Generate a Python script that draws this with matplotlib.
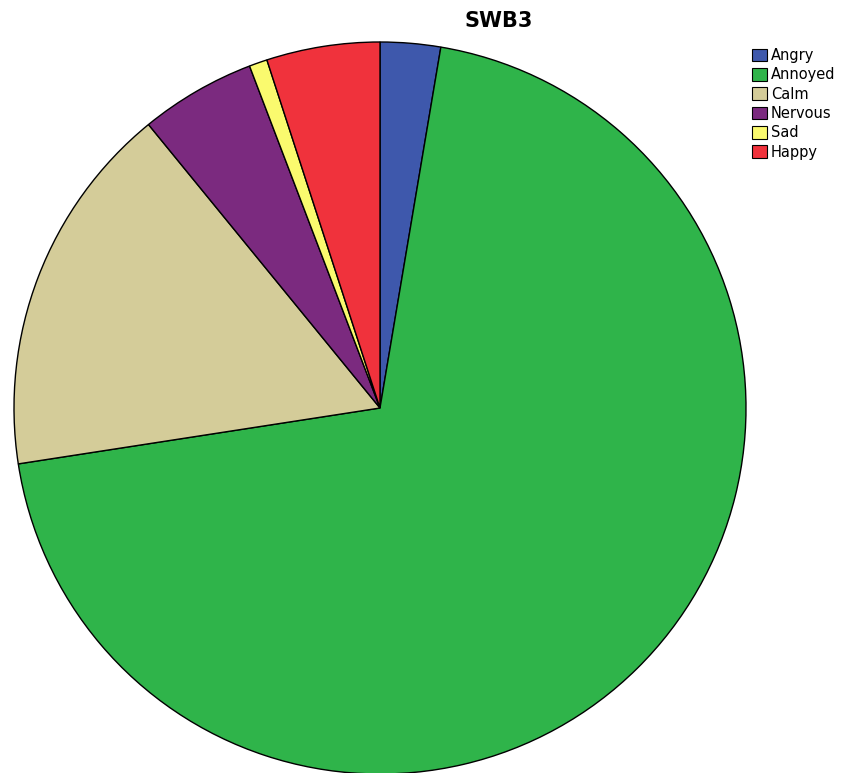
import matplotlib.pyplot as plt
from matplotlib.patches import Patch

labels = ["Angry", "Annoyed", "Calm", "Nervous", "Sad", "Happy"]
percents = [2.66, 69.9, 16.54, 5.1, 0.8, 5.0]
colors = ["#3e58ac", "#2fb44a", "#d4cc99", "#7b2a7f", "#fafa6e", "#f0323c"]

W, H = 849, 773
fig = plt.figure(figsize=(W / 100, H / 100), dpi=100)

# pie centre (380, 408) px, radius 366 px
cx, cy, r = 380, 408, 366
ax = fig.add_axes([(cx - r) / W, (H - cy - r) / H, 2 * r / W, 2 * r / H])
ax.pie(percents, colors=colors, startangle=90, counterclock=False,
       wedgeprops=dict(edgecolor="black", linewidth=1.0))
ax.set_xlim(-1, 1)
ax.set_ylim(-1, 1)
ax.set_aspect("equal")
ax.axis("off")

fig.text(499 / W, 1 - 21 / H, "SWB3", ha="center", va="center",
         fontsize=15, fontweight="bold")

handles = [Patch(facecolor=c, edgecolor="black", linewidth=0.8) for c in colors]
fig.legend(handles, labels, loc="upper left", bbox_to_anchor=(749 / W, 1 - 45 / H),
           frameon=False, fontsize=10.5, handlelength=1.0, handleheight=0.95,
           handletextpad=0.3, labelspacing=0.3, borderpad=0.2, borderaxespad=0)

fig.savefig("out.png", dpi=100)
